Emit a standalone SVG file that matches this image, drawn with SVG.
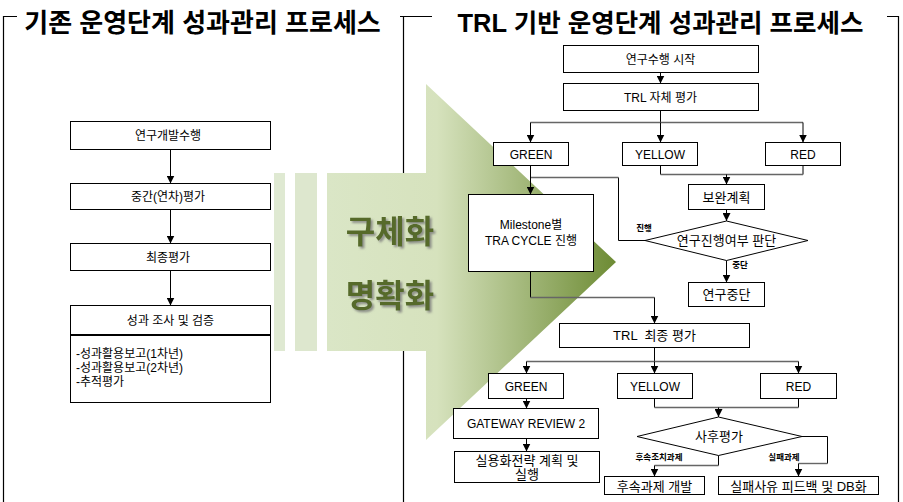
<svg xmlns="http://www.w3.org/2000/svg" width="903" height="502" viewBox="0 0 903 502">
<style>
text{font-family:"Liberation Sans","Noto Sans CJK KR",sans-serif;fill:#000;text-anchor:middle}
.t{font-size:12px}
.m{font-size:13px}
.s{font-size:8.5px;font-weight:bold}
.title{font-size:26px;font-weight:bold}
.big{font-size:32px;font-weight:bold;fill:#566b2a;filter:url(#sh)}
.box{fill:#fff;stroke:#000;stroke-width:1}
.v{fill:none;stroke:#000;stroke-width:1}
.h{fill:none;stroke:#666;stroke-width:1.4}
.fr{fill:none;stroke:#000;stroke-width:1.2}
</style>
<defs>
<marker id="ah" viewBox="0 0 8 8" markerWidth="8" markerHeight="8" refX="8" refY="4" orient="auto" markerUnits="userSpaceOnUse"><path d="M0,0 L8,4 L0,8 z" fill="#000"/></marker>
<linearGradient id="g" gradientUnits="userSpaceOnUse" x1="327" y1="0" x2="616" y2="0">
<stop offset="0" stop-color="#dae6c6"/>
<stop offset="0.38" stop-color="#d6e2bd"/>
<stop offset="1" stop-color="#6d8b34"/>
</linearGradient>
<filter id="sh" x="-10%" y="-10%" width="130%" height="140%"><feDropShadow dx="2" dy="2" stdDeviation="0.8" flood-color="#7a7a7a" flood-opacity="0.8"/></filter>
</defs>
<rect width="903" height="502" fill="#fff"/>
<g id="frames">
<path class="fr" d="M3.5,502 V16.5 H17"/>
<path class="fr" d="M400,16.5 H432 M403.5,16.5 V502"/>
<path class="fr" d="M887,16.5 H898.5 V502"/>
</g>
<g id="titles">
<text class="title" x="202.5" y="32">기존 운영단계 성과관리 프로세스</text>
<text class="title" x="660.5" y="32" style="font-size:25.5px">TRL 기반 운영단계 성과관리 프로세스</text>
</g>
<g id="bigarrow">
<rect x="274" y="173" width="11" height="178" fill="#dfe9d2"/>
<rect x="295" y="173" width="22" height="178" fill="#dde7ce"/>
<path d="M327,173 H426 V84 L616,262 L426,440 V351 H327 Z" fill="url(#g)"/>
<text class="big" x="390" y="243">구체화</text>
<text class="big" x="390" y="307">명확화</text>
</g>
<g id="connectors">
<line class="v" x1="170.5" y1="149.5" x2="170.5" y2="183.5" marker-end="url(#ah)"/>
<line class="v" x1="170.5" y1="209.5" x2="170.5" y2="243.5" marker-end="url(#ah)"/>
<line class="v" x1="170.5" y1="270.5" x2="170.5" y2="305.5" marker-end="url(#ah)"/>
<line class="v" x1="660.5" y1="72.5" x2="660.5" y2="83.5" marker-end="url(#ah)"/>
<line class="v" x1="660.5" y1="110.5" x2="660.5" y2="122.5"/>
<line class="h" x1="530.5" y1="122.5" x2="803" y2="122.5"/>
<line class="v" x1="530.5" y1="122.5" x2="530.5" y2="142.5" marker-end="url(#ah)"/>
<line class="v" x1="660.5" y1="122.5" x2="660.5" y2="142.5" marker-end="url(#ah)"/>
<line class="v" x1="803" y1="122.5" x2="803" y2="142.5" marker-end="url(#ah)"/>
<path class="v" d="M660.5,165.5 V174.5 M803,165.5 V174.5"/>
<line class="h" x1="660.5" y1="174.5" x2="803" y2="174.5"/>
<line class="v" x1="726.5" y1="174.5" x2="726.5" y2="184.5" marker-end="url(#ah)"/>
<line class="v" x1="726.5" y1="209.5" x2="726.5" y2="221" marker-end="url(#ah)"/>
<line class="v" x1="726.5" y1="260.5" x2="726.5" y2="282.5" marker-end="url(#ah)"/>
<path class="v" d="M645,240.5 H618.5 V177.5"/>
<line class="h" x1="618.5" y1="177.5" x2="530.5" y2="177.5"/>
<line class="v" x1="530.5" y1="165.5" x2="530.5" y2="194.5" marker-end="url(#ah)"/>
<line class="v" x1="530.5" y1="271.5" x2="530.5" y2="297.5"/>
<line class="h" x1="530.5" y1="297.5" x2="654.5" y2="297.5"/>
<line class="v" x1="654.5" y1="297.5" x2="654.5" y2="323.5" marker-end="url(#ah)"/>
<line class="v" x1="654.5" y1="347.5" x2="654.5" y2="361.5"/>
<line class="h" x1="526.5" y1="361.5" x2="798.5" y2="361.5"/>
<line class="v" x1="526.5" y1="361.5" x2="526.5" y2="373.5" marker-end="url(#ah)"/>
<line class="v" x1="654.5" y1="361.5" x2="654.5" y2="373.5" marker-end="url(#ah)"/>
<line class="v" x1="798.5" y1="361.5" x2="798.5" y2="373.5" marker-end="url(#ah)"/>
<path class="v" d="M654.5,398.5 V407.5 M798.5,398.5 V407.5"/>
<line class="h" x1="654.5" y1="407.5" x2="798.5" y2="407.5"/>
<line class="v" x1="718.5" y1="407.5" x2="718.5" y2="417" marker-end="url(#ah)"/>
<path class="v" d="M718.5,455.5 V465.5"/>
<line class="h" x1="718.5" y1="465.5" x2="654.5" y2="465.5"/>
<line class="v" x1="654.5" y1="465.5" x2="654.5" y2="476.5" marker-end="url(#ah)"/>
<path class="v" d="M802,436.5 H827.5 V463.5"/>
<line class="h" x1="827.5" y1="463.5" x2="798.5" y2="463.5"/>
<line class="v" x1="798.5" y1="463.5" x2="798.5" y2="476.5" marker-end="url(#ah)"/>
<line class="v" x1="526.5" y1="398.5" x2="526.5" y2="408.5" marker-end="url(#ah)"/>
<line class="v" x1="526.5" y1="438.5" x2="526.5" y2="451.5" marker-end="url(#ah)"/>
<text class="s" x="644" y="231">진행</text>
<text class="s" x="740" y="268">중단</text>
<text class="s" x="659" y="460">후속조치과제</text>
<text class="s" x="784" y="460">실패과제</text>
</g>
<g id="n-rnd"><rect class="box" x="70.5" y="121.5" width="200" height="28"/><text class="t" x="168" y="140">연구개발수행</text></g>
<g id="n-mid"><rect class="box" x="70.5" y="183.5" width="200" height="26"/><text class="t" x="168" y="201">중간(연차)평가</text></g>
<g id="n-final"><rect class="box" x="70.5" y="243.5" width="200" height="27"/><text class="t" x="168" y="261.5">최종평가</text></g>
<g id="n-survey">
<rect class="box" x="70.5" y="305.5" width="200" height="97"/>
<line x1="70.5" y1="335" x2="270.5" y2="335" stroke="#000" stroke-width="2"/>
<text class="t" x="170.5" y="325">성과 조사 및 검증</text>
<text class="t" x="76" y="358" style="text-anchor:start">-성과활용보고(1차년)</text>
<text class="t" x="76" y="372" style="text-anchor:start">-성과활용보고(2차년)</text>
<text class="t" x="76" y="386" style="text-anchor:start">-추적평가</text>
</g>
<g id="r-start"><rect class="box" x="563.5" y="45.5" width="195" height="27"/><text class="t" x="660.5" y="63.5">연구수행 시작</text></g>
<g id="r-self"><rect class="box" x="563.5" y="83.5" width="195" height="27"/><text class="t" x="660.5" y="101.5">TRL 자체 평가</text></g>
<g id="r-green"><rect class="box" x="493.5" y="142.5" width="75" height="23"/><text class="t" x="531" y="158.5">GREEN</text></g>
<g id="r-yellow"><rect class="box" x="622.5" y="142.5" width="75" height="23"/><text class="t" x="660" y="158.5">YELLOW</text></g>
<g id="r-red"><rect class="box" x="765.5" y="142.5" width="75" height="23"/><text class="t" x="803" y="158.5">RED</text></g>
<g id="r-plan"><rect class="box" x="688.5" y="184.5" width="76" height="25"/><text class="m" x="726.5" y="201.5">보완계획</text></g>
<g id="r-decide"><polygon class="box" points="645,240.5 726.5,221 808,240.5 726.5,260.5"/><text class="m" x="726.5" y="245">연구진행여부 판단</text></g>
<g id="r-stop"><rect class="box" x="688.5" y="282.5" width="76" height="24"/><text class="m" x="726.5" y="299">연구중단</text></g>
<g id="r-milestone"><rect class="box" x="468.5" y="194.5" width="125" height="77"/><text class="t" x="531" y="229">Milestone별</text><text class="t" x="531" y="245">TRA CYCLE 진행</text></g>
<g id="r-finaltrl"><rect class="box" x="559.5" y="323.5" width="190" height="24"/><text class="m" x="654.5" y="340" xml:space="preserve">TRL  최종 평가</text></g>
<g id="r-green2"><rect class="box" x="488.5" y="373.5" width="75" height="25"/><text class="t" x="526" y="390.5">GREEN</text></g>
<g id="r-yellow2"><rect class="box" x="617.5" y="373.5" width="75" height="25"/><text class="t" x="655" y="390.5">YELLOW</text></g>
<g id="r-red2"><rect class="box" x="760.5" y="373.5" width="76" height="25"/><text class="t" x="798.5" y="390.5">RED</text></g>
<g id="r-post"><polygon class="box" points="637,436.5 718.5,417 802,436.5 718.5,455.5"/><text class="m" x="719" y="441">사후평가</text></g>
<g id="r-follow"><rect class="box" x="604.5" y="476.5" width="100" height="18"/><text class="m" x="654.5" y="490.5">후속과제 개발</text></g>
<g id="r-fail"><rect class="box" x="718.5" y="476.5" width="160" height="18"/><text class="m" x="798.5" y="490.5">실패사유 피드백 및 DB화</text></g>
<g id="r-gateway"><rect class="box" x="453.5" y="408.5" width="145" height="30"/><text class="t" x="526" y="428">GATEWAY REVIEW 2</text></g>
<g id="r-commercial"><rect class="box" x="454.5" y="451.5" width="145" height="31"/><text class="m" x="527" y="465">실용화전략 계획 및</text><text class="m" x="527" y="479">실행</text></g>
</svg>
